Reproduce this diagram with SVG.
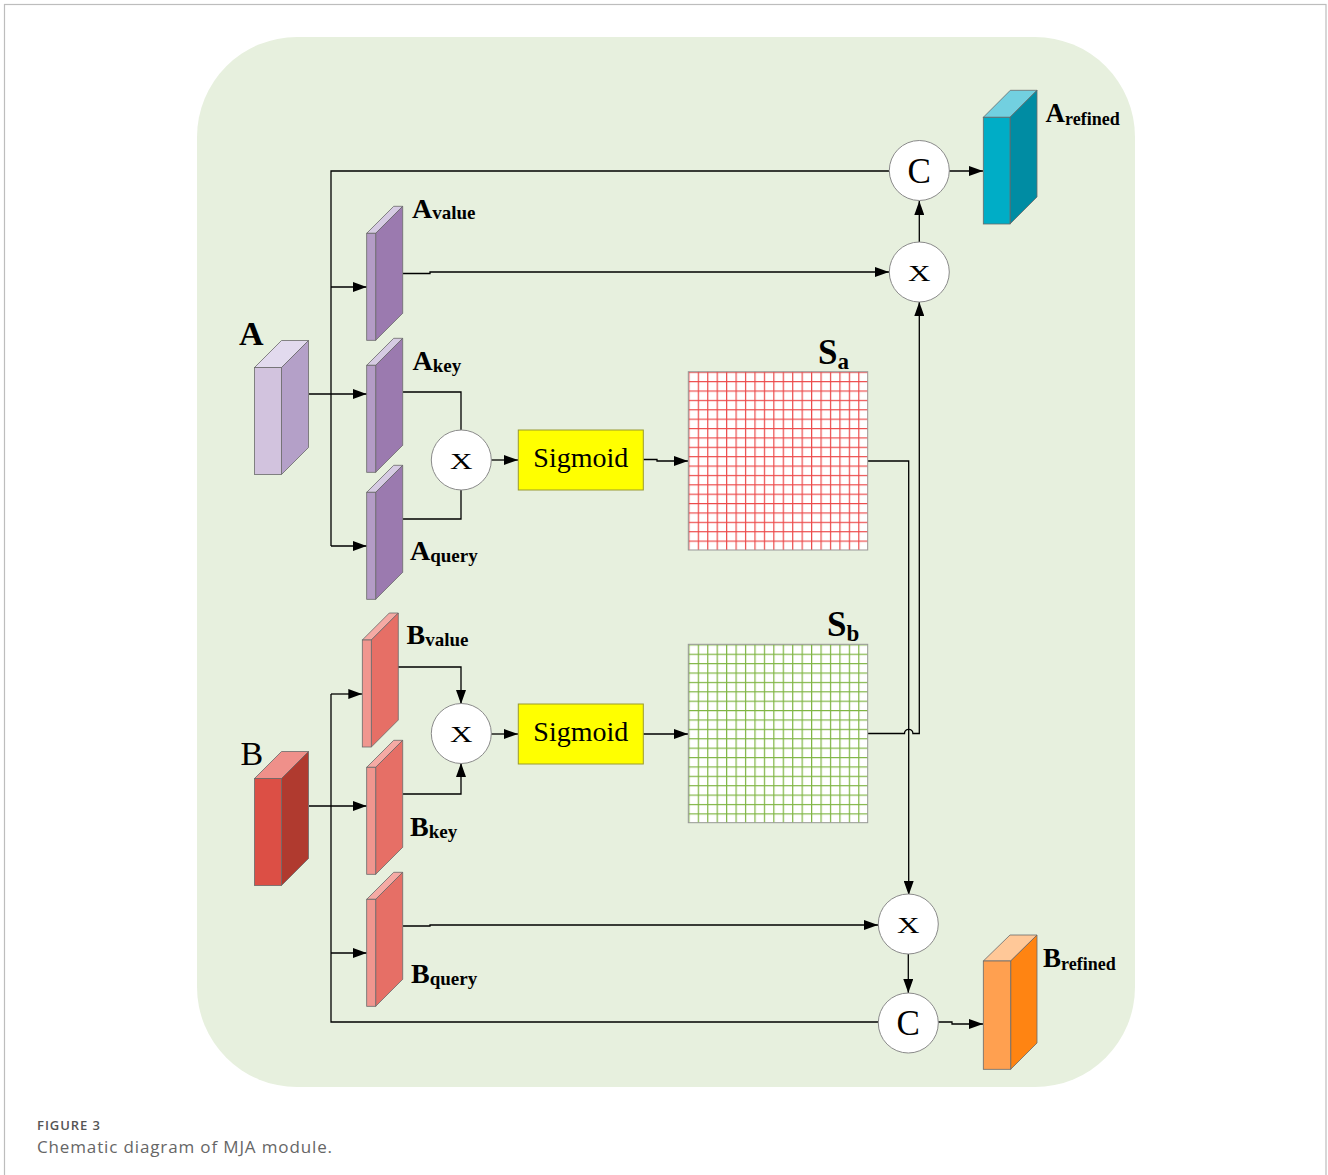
<svg xmlns="http://www.w3.org/2000/svg" xmlns:xlink="http://www.w3.org/1999/xlink" width="1328" height="1175" viewBox="0 0 1328 1175">
<style>
.ln{fill:none;stroke:#000;stroke-width:1.3}
.arr{marker-end:url(#ah)}
.circ{fill:#fff;stroke:#8a8a8a;stroke-width:1}
.ctxt{font-family:"Liberation Serif",serif;fill:#000;text-anchor:middle}
.lbl{font-family:"Liberation Serif",serif;font-weight:bold;fill:#000}
.sig{fill:#ffff00;stroke:#9a9a30;stroke-width:1}
.sigt{font-family:"Liberation Serif",serif;font-size:28px;fill:#000;text-anchor:middle}
.edge{stroke:#6a6a6a;stroke-width:0.8}
</style>
<defs>
<marker id="ah" markerUnits="userSpaceOnUse" markerWidth="14" markerHeight="10" refX="14" refY="5" orient="auto">
<path d="M0,0 L14,5 L0,10 z" fill="#000"/>
</marker>
<g id="slabA" class="edge">
<polygon points="0,0 9,0 36,-27 27,-27" fill="#d6cbe3"/>
<polygon points="9,0 36,-27 36,80 9,107" fill="#9b7aaf"/>
<rect x="0" y="0" width="9" height="107" fill="#b49cc6"/>
</g>
<g id="slabB" class="edge">
<polygon points="0,0 9,0 36,-27 27,-27" fill="#f5aaa4"/>
<polygon points="9,0 36,-27 36,80 9,107" fill="#e66f66"/>
<rect x="0" y="0" width="9" height="107" fill="#f0968f"/>
</g>
<pattern id="gridR" patternUnits="userSpaceOnUse" x="688.3" y="371.7" width="9.44" height="9.38">
<rect width="9.44" height="9.38" fill="#fff"/>
<path d="M0,0.6 H9.44 M0.6,0 V9.38" stroke="#ec4a4a" stroke-width="1.2"/>
</pattern>
<pattern id="gridG" patternUnits="userSpaceOnUse" x="688.3" y="644.3" width="9.44" height="9.39">
<rect width="9.44" height="9.39" fill="#fff"/>
<path d="M0,0.6 H9.44 M0.6,0 V9.39" stroke="#7fb543" stroke-width="1.2"/>
</pattern>
</defs>

<rect x="0" y="0" width="1328" height="1175" fill="#fff"/>
<rect x="4.5" y="4.5" width="1321.5" height="1200" fill="none" stroke="#bdbdbd" stroke-width="1.2"/>
<rect x="197" y="37" width="938" height="1050" rx="100" ry="100" fill="#e7f0de"/>

<g id="connectors">
<path class="ln" d="M331,546 V171 H889"/>
<path class="ln arr" d="M331,287 H366.7"/>
<path class="ln arr" d="M309,394 H366.7"/>
<path class="ln arr" d="M331,546 H366.7"/>
<path class="ln arr" d="M403,273.5 H430 V272 H889"/>
<path class="ln" d="M403,392 H461 V430"/>
<path class="ln" d="M403,519 H461 V490"/>
<path class="ln arr" d="M491,460 H518"/>
<path class="ln arr" d="M643,459.5 H657 V461 H688"/>
<path class="ln arr" d="M867.7,461 H908.7 V895"/>
<path class="ln arr" d="M867.7,733.5 H904.5 A4.2,4.2 0 0 1 912.9,733.5 H919.3 V302"/>
<path class="ln arr" d="M919.3,242 V201"/>
<path class="ln arr" d="M949,171 H983"/>
<path class="ln" d="M331,694 V1022 H878"/>
<path class="ln arr" d="M331,694 H362.3"/>
<path class="ln arr" d="M309,806 H366.7"/>
<path class="ln arr" d="M331,953 H366.7"/>
<path class="ln arr" d="M397.3,667 H461 V704"/>
<path class="ln arr" d="M403,794 H461 V763"/>
<path class="ln arr" d="M491,734 H518"/>
<path class="ln arr" d="M643,734 H688"/>
<path class="ln arr" d="M403,926 H430 V925 H878"/>
<path class="ln arr" d="M908.3,954 V993"/>
<path class="ln arr" d="M938,1022 H952 V1024 H983"/>
</g>

<g id="A">
<g class="edge">
<polygon points="254.5,367.5 281.5,367.5 308.5,340.5 281.5,340.5" fill="#e2daee"/>
<polygon points="281.5,367.5 308.5,340.5 308.5,447.5 281.5,474.5" fill="#b4a0c8"/>
<rect x="254.5" y="367.5" width="27" height="107" fill="#d2c3de"/>
</g>
<text class="lbl" x="239" y="345" style="font-size:34px">A</text>
</g>

<g id="A_value"><use href="#slabA" x="366.7" y="233.3"/>
<text class="lbl" x="412" y="218" style="font-size:28px">A<tspan style="font-size:19px" dy="1">value</tspan></text></g>
<g id="A_key"><use href="#slabA" x="366.7" y="365.3"/>
<text class="lbl" x="412.5" y="370" style="font-size:28px">A<tspan style="font-size:19px" dy="2">key</tspan></text></g>
<g id="A_query"><use href="#slabA" x="366.7" y="492.3"/>
<text class="lbl" x="410" y="560" style="font-size:28px">A<tspan style="font-size:19px" dy="2">query</tspan></text></g>

<g id="mulA"><circle class="circ" cx="461.3" cy="460" r="30"/>
<text class="ctxt" x="461.3" y="469" font-size="24" transform="translate(461.3,0) scale(1.3,1) translate(-461.3,0)">X</text></g>
<g id="sigA"><rect class="sig" x="518.3" y="430" width="125" height="60"/>
<text class="sigt" x="580.8" y="467">Sigmoid</text></g>
<g id="Sa"><rect x="688.3" y="371.7" width="179.4" height="178.3" fill="url(#gridR)" stroke="#9a9a9a" stroke-width="1"/>
<text class="lbl" x="818" y="364" style="font-size:35px">S<tspan style="font-size:23px" dy="5">a</tspan></text></g>

<g id="B">
<g class="edge">
<polygon points="254.5,778.5 281.5,778.5 308.5,751.5 281.5,751.5" fill="#ef908a"/>
<polygon points="281.5,778.5 308.5,751.5 308.5,858.5 281.5,885.5" fill="#b03a2f"/>
<rect x="254.5" y="778.5" width="27" height="107" fill="#dc4f45"/>
</g>
<text x="240.5" y="765" font-family="Liberation Serif, serif" font-size="34" fill="#000">B</text>
</g>

<g id="B_value"><use href="#slabB" x="362.3" y="640"/>
<text class="lbl" x="406.5" y="644" style="font-size:28px">B<tspan style="font-size:19px" dy="2">value</tspan></text></g>
<g id="B_key"><use href="#slabB" x="366.7" y="767.3"/>
<text class="lbl" x="410" y="836" style="font-size:28px">B<tspan style="font-size:19px" dy="2">key</tspan></text></g>
<g id="B_query"><use href="#slabB" x="366.7" y="899.3"/>
<text class="lbl" x="411" y="983" style="font-size:28px">B<tspan style="font-size:19px" dy="2">query</tspan></text></g>

<g id="mulB"><circle class="circ" cx="461.3" cy="733.5" r="30"/>
<text class="ctxt" x="461.3" y="742.5" font-size="24" transform="translate(461.3,0) scale(1.3,1) translate(-461.3,0)">X</text></g>
<g id="sigB"><rect class="sig" x="518.3" y="704" width="125" height="60"/>
<text class="sigt" x="580.8" y="741">Sigmoid</text></g>
<g id="Sb"><rect x="688.3" y="644.3" width="179.4" height="178.4" fill="url(#gridG)" stroke="#9a9a9a" stroke-width="1"/>
<text class="lbl" x="827" y="636" style="font-size:35px">S<tspan style="font-size:23px" dy="5">b</tspan></text></g>

<g id="mulTop"><circle class="circ" cx="919.3" cy="272" r="30"/>
<text class="ctxt" x="919.3" y="281" font-size="24" transform="translate(919.3,0) scale(1.3,1) translate(-919.3,0)">X</text></g>
<g id="catTop"><circle class="circ" cx="919.3" cy="170.5" r="30"/>
<text class="ctxt" x="919.3" y="182.5" font-size="35">C</text></g>
<g id="A_refined">
<g class="edge">
<polygon points="983.3,117.3 1010,117.3 1037,90.3 1010.3,90.3" fill="#72d0e0"/>
<polygon points="1010,117.3 1037,90.3 1037,197 1010,224" fill="#008ca3"/>
<rect x="983.3" y="117.3" width="26.7" height="106.7" fill="#00adc6"/>
</g>
<text class="lbl" x="1045.5" y="122" style="font-size:27px">A<tspan style="font-size:18px" dy="3">refined</tspan></text>
</g>

<g id="mulBot"><circle class="circ" cx="908.3" cy="924" r="30"/>
<text class="ctxt" x="908.3" y="933" font-size="24" transform="translate(908.3,0) scale(1.3,1) translate(-908.3,0)">X</text></g>
<g id="catBot"><circle class="circ" cx="908.3" cy="1023" r="30"/>
<text class="ctxt" x="908.3" y="1035" font-size="35">C</text></g>
<g id="B_refined">
<g class="edge">
<polygon points="983.3,961 1010.7,961 1037,935 1010,935" fill="#ffc898"/>
<polygon points="1010.7,961 1037,935 1037,1043 1010.7,1069.3" fill="#ff8412"/>
<rect x="983.3" y="961" width="27.4" height="108.3" fill="#ffa050"/>
</g>
<text class="lbl" x="1043" y="967" style="font-size:27px">B<tspan style="font-size:18px" dy="3">refined</tspan></text>
</g>

<g id="caption">
<text x="37" y="1130" font-family="Open Sans, sans-serif" font-size="13" font-weight="600" fill="#555" textLength="63" lengthAdjust="spacing">FIGURE 3</text>
<text x="37" y="1153" font-family="Open Sans, sans-serif" font-size="17" fill="#666" textLength="295" lengthAdjust="spacing">Chematic diagram of MJA module.</text>
</g>
</svg>
